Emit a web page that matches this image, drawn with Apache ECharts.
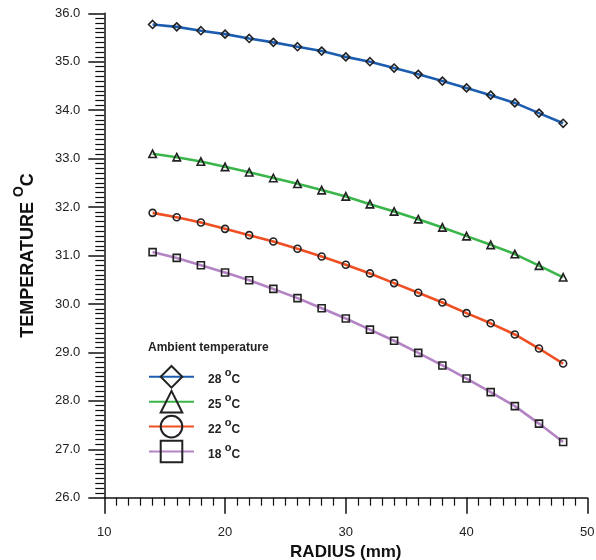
<!DOCTYPE html>
<html>
<head>
<meta charset="utf-8">
<script src="https://cdn.jsdelivr.net/npm/echarts@6/dist/echarts.min.js"></script>
<style>html,body{margin:0;padding:0;background:#fff}#c{width:596px;height:560px}</style>
</head>
<body>
<div id="c"></div>
<script>
const radius = [14,16,18,20,22,24,26,28,30,32,34,36,38,40,42,44,46,48];
const t28 = [35.77,35.72,35.64,35.57,35.48,35.40,35.31,35.22,35.10,35.00,34.87,34.74,34.60,34.46,34.31,34.15,33.94,33.73];
const t25 = [33.10,33.03,32.94,32.83,32.72,32.60,32.48,32.35,32.22,32.06,31.91,31.75,31.58,31.40,31.22,31.03,30.79,30.55];
const t22 = [31.88,31.79,31.68,31.55,31.42,31.29,31.14,30.98,30.81,30.63,30.43,30.23,30.03,29.81,29.60,29.37,29.08,28.77];
const t18 = [31.07,30.95,30.80,30.65,30.49,30.31,30.12,29.91,29.70,29.47,29.24,28.99,28.73,28.46,28.18,27.89,27.53,27.15];
const seriesNames = ['28', '25', '22', '18'];
const seriesData = [t28, t25, t22, t18];
const seriesColors = ['#1c5db0', '#3ab54a', '#f04e23', '#b383c4'];
const seriesSymbols = ['diamond', 'triangle', 'circle', 'rect'];
const symbolSizes = [8, 7.5, 7, 7];
const legendTitle = 'Ambient temperature';
const xName = 'RADIUS (mm)';

const FONT = '"Liberation Sans", Arial, Helvetica, sans-serif';
const chart = echarts.init(document.getElementById('c'), null, {renderer: 'canvas'});

const series = seriesNames.map((n, i) => ({
  name: n,
  type: 'line',
  data: radius.map((r, j) => [r, seriesData[i][j]]),
  symbol: seriesSymbols[i],
  symbolSize: symbolSizes[i],
  showAllSymbol: true,
  lineStyle: {color: seriesColors[i], width: 2.6},
  itemStyle: {color: 'none', borderColor: '#222', borderWidth: 1.6},
  emphasis: {disabled: true},
  animation: false
}));

chart.setOption({
  animation: false,
  title: {
    text: legendTitle,
    left: 143, top: 337,
    textStyle: {fontFamily: FONT, fontSize: 12, fontWeight: 'bold', color: '#222'}
  },
  legend: {
    orient: 'vertical',
    left: 143, top: 358.5,
    itemWidth: 45, itemHeight: 27, itemGap: -1.7,
    selectedMode: false,
    itemStyle: {color: 'none', borderColor: '#222', borderWidth: 2},
    formatter: n => '{f|' + n + ' }{s|o}{n|C}',
    textStyle: {
      fontFamily: FONT, color: '#222',
      rich: {
        f: {fontFamily: FONT, fontSize: 12, fontWeight: 'bold', color: '#222', padding: [0,0,0,9], lineHeight: 18, verticalAlign: 'bottom'},
        s: {fontFamily: FONT, fontSize: 11, fontWeight: 'bold', color: '#222', lineHeight: 11, verticalAlign: 'top'},
        n: {fontFamily: FONT, fontSize: 12, fontWeight: 'bold', color: '#222', lineHeight: 18, verticalAlign: 'bottom'}
      }
    },
    data: seriesNames
  },
  grid: {left: 104.3, right: 8.7, top: 13.3, bottom: 62.3, containLabel: false, outerBoundsMode: 'none'},
  xAxis: {
    type: 'value', min: 10, max: 50, interval: 10,
    name: xName, nameLocation: 'middle', nameGap: 38,
    nameTextStyle: {fontFamily: FONT, fontSize: 17, fontWeight: 'bold', color: '#111'},
    axisLine: {onZero: false, lineStyle: {color: '#111', width: 1.5}},
    axisTick: {show: true, length: 16, lineStyle: {color: '#111', width: 1.5}},
    minorTick: {show: true, splitNumber: 10, length: 8, lineStyle: {color: '#111', width: 1.2}},
    axisLabel: {margin: 28, fontFamily: FONT, fontSize: 13, color: '#222'},
    splitLine: {show: false}
  },
  yAxis: {
    type: 'value', min: 26, max: 36, interval: 1,
    name: '{a|TEMPERATURE }{s|O}{a|C}', nameLocation: 'middle', nameGap: 67,
    nameTextStyle: {
      fontFamily: FONT, fontSize: 18, fontWeight: 'bold', color: '#111',
      rich: {
        a: {fontFamily: FONT, fontSize: 18, fontWeight: 'bold', color: '#111', lineHeight: 25, verticalAlign: 'bottom'},
        s: {fontFamily: FONT, fontSize: 14, fontWeight: 'bold', color: '#111', lineHeight: 14, verticalAlign: 'top'}
      }
    },
    axisLine: {show: true, onZero: false, lineStyle: {color: '#111', width: 1.5}},
    axisTick: {show: true, length: 16, lineStyle: {color: '#111', width: 1.5}},
    minorTick: {show: true, splitNumber: 10, length: 9, lineStyle: {color: '#111', width: 1.2}},
    axisLabel: {margin: 24, fontFamily: FONT, fontSize: 13, color: '#222', formatter: v => v.toFixed(1)},
    splitLine: {show: false}
  },
  series: series
});
</script>
</body>
</html>
